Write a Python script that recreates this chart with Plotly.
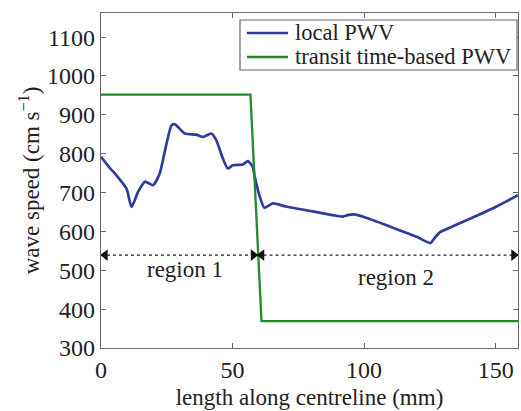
import plotly.graph_objects as go

# local PWV (blue)
local_x = [0, 3.4, 5.3, 9.7, 11.6, 14.1, 16.7, 19.8, 22.3, 24.9, 26.8, 28, 31.8, 36.2, 38.8,
           41.9, 43.8, 46.3, 48.2, 50.1, 53.9, 55.8, 57.7, 58.3, 60.2, 62.1, 65.3, 70.3,
           80, 88, 91.8, 93.7, 96.2, 100, 110, 120, 125.2, 127, 129, 131, 140, 150, 158.5]
local_y = [792, 763, 749, 710, 663, 702, 728, 719, 749, 826, 873, 876, 852, 849, 843,
           852, 835, 788, 762, 770, 772, 781, 766, 745, 693, 661, 672, 664,
           652, 642, 638, 642, 644, 637, 612, 586, 570, 585, 599, 605, 632, 663, 693]

# transit time-based PWV (green)
transit_x = [0, 56.8, 61, 158.5]
transit_y = [952, 952, 369, 369]

# region arrows
region_names = ["region 1", "region 2"]
region_start = [0, 59.5]
region_end = [59.5, 158.5]
region_label_x = [32, 112]
region_label_y = [502, 482]
arrow_y = 539

x_ticks = [0, 50, 100, 150]
y_ticks = [300, 400, 500, 600, 700, 800, 900, 1000, 1100]

series_names = ["local PWV", "transit time-based PWV"]
series_colors = ["#2e3c9e", "#1f8a2e"]

FONT = "Liberation Serif"
HEAD = 1.6  # arrowhead marker centre offset from tip (x units)

fig = go.Figure()
fig.add_trace(go.Scatter(x=local_x, y=local_y, mode="lines", name=series_names[0],
                         showlegend=False,
                         line=dict(color=series_colors[0], width=2.7, shape="spline", smoothing=0.6)))
fig.add_trace(go.Scatter(x=transit_x, y=transit_y, mode="lines", name=series_names[1],
                         showlegend=False,
                         line=dict(color=series_colors[1], width=2.3)))

for s, e, name, lx, ly in zip(region_start, region_end, region_names, region_label_x, region_label_y):
    fig.add_trace(go.Scatter(x=[s, e], y=[arrow_y, arrow_y], mode="lines", showlegend=False,
                             line=dict(color="#222222", width=1.2, dash="dot"), hoverinfo="skip"))
    fig.add_trace(go.Scatter(x=[s + HEAD, e - HEAD], y=[arrow_y, arrow_y], mode="markers",
                             showlegend=False, hoverinfo="skip", cliponaxis=False,
                             marker=dict(symbol=["triangle-left", "triangle-right"], size=10,
                                         color="#111111", line=dict(width=0))))
    fig.add_annotation(x=lx, y=ly, xref="x", yref="y", text=name, showarrow=False,
                       font=dict(family=FONT, size=23, color="#222222"))

# legend box drawn in paper coordinates
leg_box = dict(x0=0.3333, x1=0.9976, y0=0.8299, y1=0.9791)
leg_rows = [0.9403, 0.8687]
leg_line_x = [0.350, 0.4484]
leg_text_x = 0.4604
fig.add_shape(type="rect", xref="paper", yref="paper", **leg_box,
              line=dict(color="#666666", width=1.2), fillcolor="white", layer="above")
for yy, nm, col in zip(leg_rows, series_names, series_colors):
    fig.add_shape(type="line", xref="paper", yref="paper", x0=leg_line_x[0], x1=leg_line_x[1],
                  y0=yy, y1=yy, line=dict(color=col, width=2.5), layer="above")
    fig.add_annotation(x=leg_text_x, y=yy, xref="paper", yref="paper", text=nm,
                       showarrow=False, xanchor="left", yanchor="middle",
                       font=dict(family=FONT, size=22.5, color="#222222"))

axis_common = dict(showline=True, linecolor="#666666", linewidth=1.2, mirror="ticks",
                   ticks="inside", ticklen=5, tickcolor="#666666", showgrid=False,
                   zeroline=False, tickfont=dict(family=FONT, size=24, color="#222222"))

fig.update_layout(
    width=521, height=411,
    margin=dict(l=101, r=3, t=13, b=63),
    plot_bgcolor="white", paper_bgcolor="white",
    xaxis=dict(range=[0, 158.5], tickvals=x_ticks,
               title=dict(text="length along centreline (mm)", standoff=6,
                          font=dict(family=FONT, size=23, color="#222222")),
               **axis_common),
    yaxis=dict(range=[300, 1162], tickvals=y_ticks,
               title=dict(text="wave speed (cm s<sup>−1</sup>)", standoff=1,
                          font=dict(family=FONT, size=23, color="#222222")),
               **axis_common),
    showlegend=False,
)

fig.write_html("out.html", post_script="document.body.style.margin='0';",
               config={"displayModeBar": False})
